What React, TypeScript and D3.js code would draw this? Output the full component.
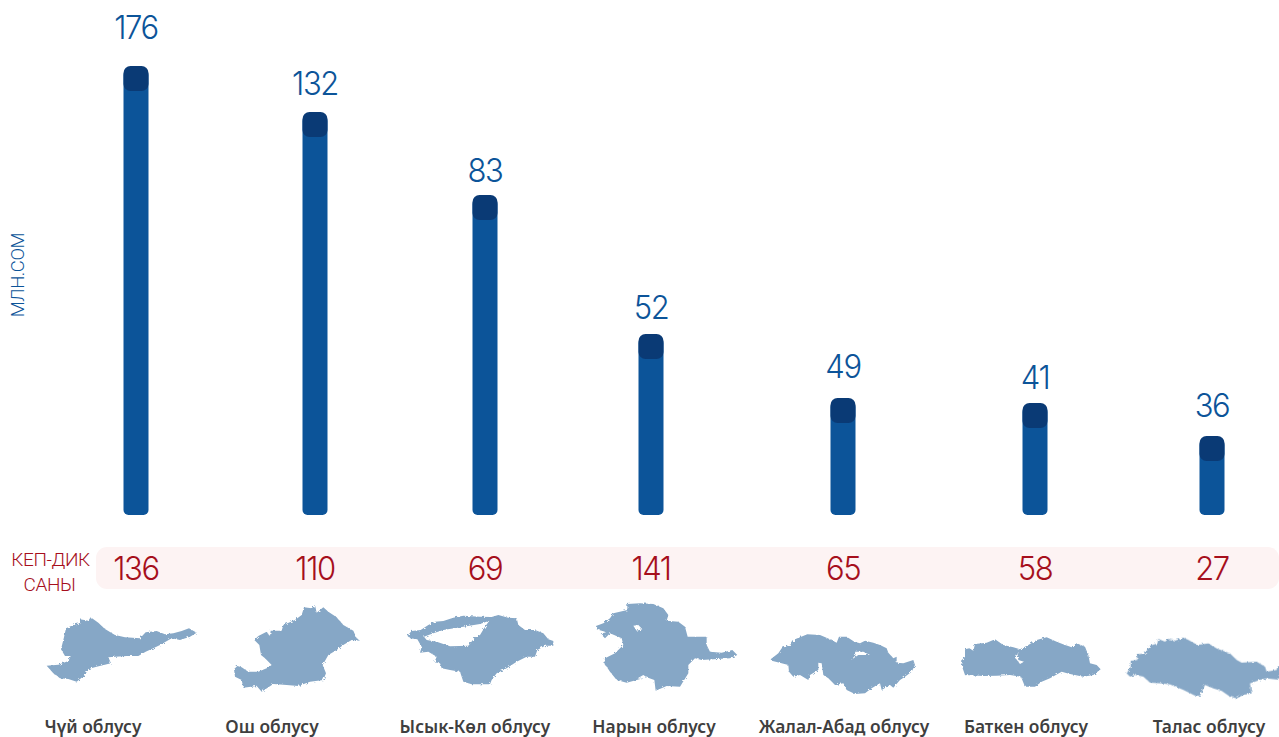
import React, { useEffect } from "react";
import * as d3 from "d3";

const regions = ["Чүй облусу", "Ош облусу", "Ысык-Көл облусу", "Нарын облусу", "Жалал-Абад облусу", "Баткен облусу", "Талас облусу"];
const amountMln = [176, 132, 83, 52, 49, 41, 36];
const checkCounts = [136, 110, 69, 141, 65, 58, 27];

// Outlines, in 3x crop units.
const chuiOutline = [[[140,407],[175,404],[205,393],[212,378],[195,378],[183,358],[190,330],[198,295],[225,283],[243,280],[240,268],[265,272],[272,262],[295,278],[315,297],[345,315],[375,322],[420,325],[437,307],[470,303],[495,313],[520,310],[545,303],[567,295],[590,308],[570,320],[540,330],[515,325],[480,345],[460,355],[437,365],[415,378],[380,378],[325,382],[333,400],[290,410],[265,417],[255,435],[230,455],[205,447],[180,445],[160,430]]];
const oshOutline = [[[702,418],[712,408],[725,412],[745,425],[775,425],[800,415],[815,405],[795,385],[783,375],[778,345],[763,330],[775,318],[800,305],[810,318],[812,302],[845,302],[850,285],[885,270],[905,255],[912,232],[935,235],[945,225],[950,248],[970,232],[985,245],[1010,262],[1030,285],[1060,302],[1070,325],[1080,332],[1055,330],[1030,345],[1010,360],[985,375],[968,405],[978,430],[970,450],[930,455],[895,468],[860,465],[820,462],[785,485],[770,468],[730,473],[725,450],[705,440]]];
const issykOutline = [[[22,92],[35,78],[62,75],[85,60],[105,50],[130,48],[160,38],[190,32],[240,35],[275,36],[295,30],[325,38],[350,40],[355,60],[375,75],[405,75],[430,85],[445,103],[460,108],[460,122],[435,122],[412,135],[405,155],[380,155],[350,170],[320,190],[290,205],[275,225],[270,238],[215,238],[190,230],[180,200],[150,195],[125,190],[120,175],[103,172],[110,155],[85,140],[60,143],[65,125],[52,103],[30,100]],
  [[72,95],[100,85],[130,75],[190,65],[240,57],[268,47],[255,65],[240,90],[225,97],[205,122],[150,124],[110,110],[80,105]]];
const narynOutline = [[[528,108],[550,100],[570,85],[580,70],[622,60],[622,42],[660,40],[700,42],[730,55],[745,75],[740,92],[775,95],[795,110],[803,140],[860,140],[860,165],[870,185],[905,188],[937,180],[952,195],[930,205],[880,208],[845,210],[825,205],[805,225],[805,250],[780,290],[740,288],[707,302],[703,270],[680,262],[650,270],[620,278],[590,270],[570,245],[553,220],[555,205],[585,190],[610,165],[605,145],[570,130],[555,145],[545,135],[555,125],[530,118]],
  [[640,107],[655,105],[667,118],[650,122]],[[653,265],[670,255],[678,260],[665,268]]];
const jalalOutline = [[[17,118],[40,100],[50,85],[80,72],[90,58],[127,43],[165,45],[195,58],[215,68],[222,50],[245,50],[268,65],[285,70],[300,62],[325,68],[345,75],[365,85],[370,98],[385,115],[395,110],[395,128],[415,130],[445,120],[450,135],[440,155],[420,170],[405,180],[385,203],[375,195],[350,210],[345,190],[320,205],[300,220],[270,222],[245,210],[235,190],[210,195],[190,175],[175,165],[170,130],[160,128],[160,150],[135,165],[130,180],[105,165],[85,170],[72,155],[70,135],[50,130],[20,122]],
  [[270,95],[295,95],[315,105],[280,105],[258,120],[272,105]]];
const batkenOutline = [[[333,392],[345,380],[345,358],[358,355],[370,362],[375,342],[410,338],[435,328],[460,345],[490,352],[510,358],[535,345],[560,330],[590,322],[620,335],[645,345],[665,352],[680,340],[705,350],[715,375],[720,400],[740,405],[752,418],[730,435],[700,440],[660,432],[635,425],[600,445],[575,455],[555,470],[525,470],[513,440],[480,435],[440,437],[400,438],[345,435],[338,415]],
  [[507,362],[497,385],[510,402],[522,395],[505,390],[503,375]]];
const talasOutline = [[[20,145],[32,125],[32,108],[52,105],[50,88],[75,85],[90,62],[112,55],[115,42],[135,50],[145,42],[165,47],[190,38],[205,45],[232,60],[265,55],[290,70],[330,85],[350,105],[365,113],[410,110],[435,125],[440,140],[470,135],[472,125],[480,125],[480,165],[440,160],[420,165],[390,175],[395,205],[370,210],[350,220],[330,215],[305,198],[280,190],[255,180],[240,213],[225,212],[190,195],[150,178],[125,175],[90,173],[70,155],[45,150],[30,155]]];
const outlines = [chuiOutline, oshOutline, issykOutline, narynOutline, jalalOutline, batkenOutline, talasOutline];
const outlineOrigins = [[0,530],[0,530],[400,605],[420,590],[765,620],[850,530],[1120,625]];

const BLUE = "#0c5499", CAP = "#0a3a75", RED = "#a60f1c", LAND = "#86a7c6", INK = "#3f3f3f";
const NUM_FONT = "Inter, Lato, sans-serif";
const THIN_FONT = "Roboto, 'Noto Sans', sans-serif";

export default function App() {
  const ref = React.useRef<SVGSVGElement>(null);
  useEffect(() => {
    const svg = d3.select(ref.current);
    svg.selectAll("*").remove();
    const barX = d3.scaleOrdinal<string, number>().domain(regions).range([136, 315, 485, 651, 843, 1035, 1212]);
    const labelX = d3.scaleOrdinal<string, number>().domain(regions).range([93, 272, 475, 654, 844, 1026, 1209]);
    // The reference's bars are not proportional: a piecewise scale reproduces its axis.
    const y = d3.scaleLinear()
      .domain([0, 36, 41, 49, 52, 83, 132, 176])
      .range([515, 436, 403, 398, 334, 195, 112, 66]);
    const valueBaseline = [39, 95, 182, 319, 378, 389, 417];
    const bw = 25, capH = 25;

    const defs = svg.append("defs");
    const f = defs.append("filter").attr("id", "rough").attr("x", "-5%").attr("y", "-5%").attr("width", "110%").attr("height", "110%").attr("color-interpolation-filters", "sRGB");
    f.append("feTurbulence").attr("type", "fractalNoise").attr("baseFrequency", 0.45).attr("numOctaves", 2).attr("seed", 4).attr("result", "n");
    f.append("feDisplacementMap").attr("in", "SourceGraphic").attr("in2", "n").attr("scale", 3.2);

    const num = (x: number, yy: number, t: number, color: string) => {
      svg.append("text").attr("transform", `translate(${x},${yy}) scale(0.94,1)`).attr("text-anchor", "middle")
        .attr("font-family", NUM_FONT).attr("font-weight", 300).attr("font-size", 33).attr("letter-spacing", -1.5).attr("fill", color).text(t);
    };

    svg.append("text").attr("transform", "translate(24,275) rotate(-90)").attr("text-anchor", "middle")
      .attr("font-family", THIN_FONT).attr("font-weight", 300).attr("font-size", 18.5).attr("fill", BLUE).attr("letter-spacing", -0.4).text("МЛН.СОМ");

    const bars = svg.append("g");
    regions.forEach((r, i) => {
      const v = amountMln[i], x = barX(r), top = y(v);
      bars.append("rect").attr("x", x - bw / 2).attr("y", top + 4).attr("width", bw).attr("height", y(0) - top - 4).attr("rx", 5).attr("fill", BLUE);
      bars.append("rect").attr("x", x - bw / 2).attr("y", top).attr("width", bw).attr("height", capH).attr("rx", 7).attr("fill", CAP);
      num(x, valueBaseline[i], v, BLUE);
    });

    svg.append("rect").attr("x", 96).attr("y", 547).attr("width", 1183).attr("height", 42).attr("rx", 11).attr("fill", "#fdf3f3");
    [["КЕП-ДИК", 50.5, 566], ["САНЫ", 49.5, 591]].forEach(([t, x, yy]) => {
      svg.append("text").attr("x", x).attr("y", yy).attr("text-anchor", "middle").attr("font-family", THIN_FONT)
        .attr("font-weight", 300).attr("font-size", 19).attr("letter-spacing", -0.4).attr("fill", RED).text(t as string);
    });
    regions.forEach((r, i) => num(barX(r), 580, checkCounts[i], RED));

    const line = d3.line().curve(d3.curveLinearClosed);
    const lands = svg.append("g").attr("filter", "url(#rough)");
    outlines.forEach((rings, i) => {
      const [ox, oy] = outlineOrigins[i];
      lands.append("path").attr("transform", `translate(${ox},${oy}) scale(${1 / 3})`)
        .attr("fill-rule", "evenodd").attr("fill", LAND)
        .attr("d", rings.map((ring) => line(ring as [number, number][])).join(""));
    });

    regions.forEach((r) => {
      svg.append("text").attr("x", labelX(r)).attr("y", 733).attr("text-anchor", "middle")
        .attr("font-family", "'Noto Sans', sans-serif").attr("font-weight", 600).attr("font-size", 17.4).attr("fill", INK).text(r);
    });
  }, []);
  return <svg ref={ref} width={1279} height={737} style={{ position: "absolute", left: 0, top: 0, background: "#fff" }} />;
}
